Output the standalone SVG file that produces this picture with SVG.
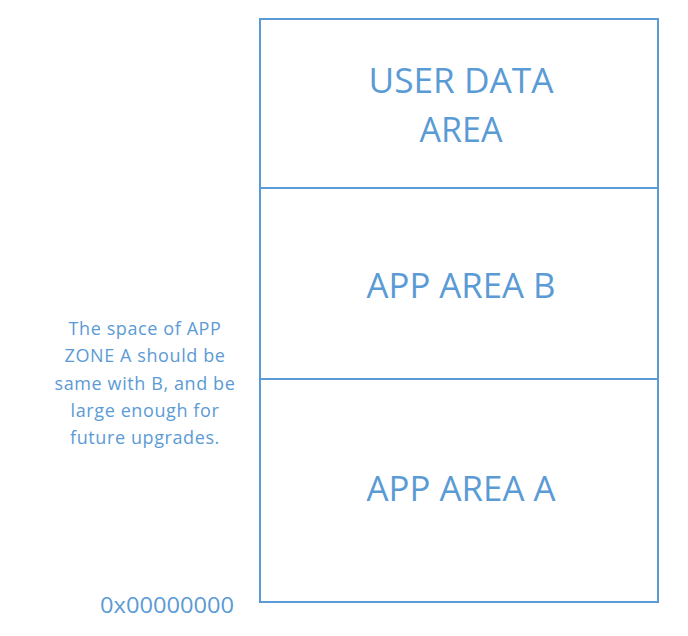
<svg xmlns="http://www.w3.org/2000/svg" width="688" height="636" viewBox="0 0 688 636">
<style>
.box{fill:#ffffff;stroke:#5B9BD5;stroke-width:2}
.big{font-family:"Open Sans","Noto Sans",sans-serif;font-size:34px;fill:#5B9BD5;text-anchor:middle}
.note{font-family:"Open Sans","Noto Sans",sans-serif;font-size:18px;letter-spacing:0.6px;fill:#5B9BD5;text-anchor:middle}
.addr{font-family:"Open Sans","Noto Sans",sans-serif;font-size:22px;fill:#5B9BD5}
</style>
<rect width="688" height="636" fill="#ffffff"/>
<g id="user-data-area">
<rect class="box" x="260" y="19" width="398" height="169"/>
<text class="big" x="461" y="93" textLength="185" lengthAdjust="spacingAndGlyphs">USER DATA</text>
<text class="big" x="461" y="142">AREA</text>
</g>
<g id="app-area-b">
<rect class="box" x="260" y="188" width="398" height="191"/>
<text class="big" x="461" y="298" textLength="189" lengthAdjust="spacingAndGlyphs">APP AREA B</text>
</g>
<g id="app-area-a">
<rect class="box" x="260" y="379" width="398" height="223"/>
<text class="big" x="461" y="501" textLength="189" lengthAdjust="spacingAndGlyphs">APP AREA A</text>
</g>
<g id="note">
<text class="note" x="145" y="335">The space of APP</text>
<text class="note" x="145" y="362">ZONE A should be</text>
<text class="note" x="145" y="390">same with B, and be</text>
<text class="note" x="145" y="417">large enough for</text>
<text class="note" x="145" y="444">future upgrades.</text>
</g>
<g id="address">
<text class="addr" x="100" y="613" textLength="134" lengthAdjust="spacingAndGlyphs">0x00000000</text>
</g>
<g id="connectors"/>
</svg>
